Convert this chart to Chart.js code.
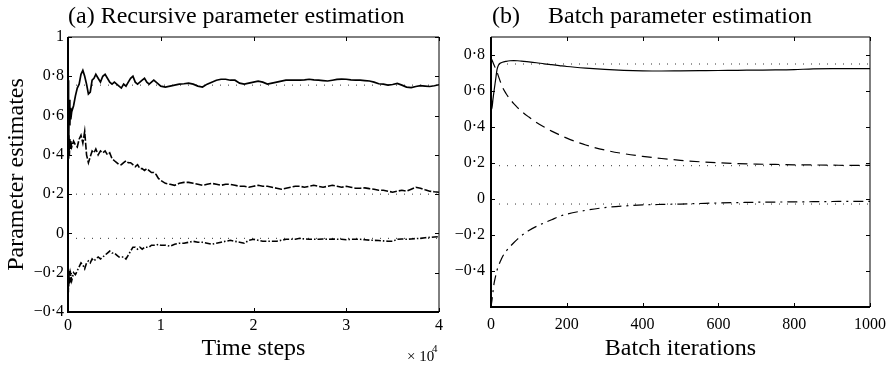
<!DOCTYPE html>
<html>
<head>
<meta charset="utf-8">
<script src="https://cdn.jsdelivr.net/npm/chart.js@4"></script>
<style>
  html, body { margin: 0; padding: 0; background: #fff; }
  #wrap { position: relative; width: 891px; height: 369px; }
  #left { position: absolute; left: 0; top: 0; }
  #right { position: absolute; left: 445px; top: 0; }
</style>
</head>
<body>
<div id="wrap">
  <canvas id="left" width="445" height="369"></canvas>
  <canvas id="right" width="446" height="369"></canvas>
</div>
<script>
// (a) recursive estimation, time steps
const steps = [0, 20, 40, 60, 80, 100, 150, 200, 250, 300,
  400, 600, 800, 1000, 1200, 1400, 1600, 1800, 2000, 2200, 2400, 2600, 2800, 3000,
  3250, 3500, 3750, 4000, 4250, 4500, 4750, 5000, 5250, 5500, 5750, 6000, 6250, 6500, 6750,
  7000, 7250, 7500, 7750, 8000, 8250, 8500, 8750, 9000, 9250, 9500, 9750, 10000,
  10500, 11000, 11500, 12000, 12500, 13000, 13500, 14000, 14500, 15000, 15500, 16000,
  16500, 17000, 17500, 18000, 18500, 19000, 19500, 20000, 20500, 21000, 21500, 22000,
  22500, 23000, 23500, 24000, 24500, 25000, 25500, 26000, 26500, 27000, 27500, 28000,
  28500, 29000, 29500, 30000, 30500, 31000, 31500, 32000, 32500, 33000, 33500, 34000,
  34500, 35000, 35500, 36000, 36500, 37000, 37500, 38000, 38500, 39000, 39500, 40000]

const recTop = [0.78, 0.38, 0.66, 0.45, 0.72, 0.50, 0.68, 0.55, 0.64, 0.58,
  0.62, 0.65, 0.70, 0.74, 0.76, 0.81, 0.83, 0.80, 0.76, 0.71, 0.72, 0.78, 0.79, 0.81,
  0.79, 0.77, 0.80, 0.81, 0.79, 0.77, 0.76, 0.77, 0.76, 0.75, 0.74, 0.76, 0.75, 0.77, 0.79,
  0.80, 0.77, 0.76, 0.77, 0.78, 0.79, 0.77, 0.76, 0.77, 0.78, 0.77, 0.76, 0.75,
  0.745, 0.75, 0.755, 0.76, 0.762, 0.765, 0.76, 0.75, 0.745, 0.76, 0.77, 0.78,
  0.785, 0.785, 0.78, 0.78, 0.765, 0.76, 0.765, 0.77, 0.775, 0.77, 0.76, 0.765,
  0.77, 0.775, 0.78, 0.78, 0.78, 0.78, 0.782, 0.785, 0.782, 0.78, 0.778, 0.776,
  0.78, 0.784, 0.786, 0.785, 0.782, 0.78, 0.78, 0.778, 0.776, 0.77, 0.762, 0.76,
  0.755, 0.758, 0.764, 0.755, 0.745, 0.742, 0.748, 0.752, 0.75, 0.748, 0.752, 0.757]

const recMid = [0.60, 0.52, 0.38, 0.55, 0.42, 0.50, 0.40, 0.48, 0.43, 0.47,
  0.44, 0.47, 0.45, 0.44, 0.48, 0.50, 0.46, 0.52, 0.40, 0.36, 0.39, 0.42, 0.41, 0.43,
  0.40, 0.42, 0.41, 0.42, 0.40, 0.41, 0.38, 0.37, 0.36, 0.35, 0.35, 0.36, 0.37, 0.36, 0.36,
  0.35, 0.34, 0.35, 0.33, 0.33, 0.32, 0.33, 0.32, 0.31, 0.31, 0.30, 0.28, 0.27,
  0.255, 0.25, 0.245, 0.255, 0.26, 0.26, 0.255, 0.25, 0.245, 0.25, 0.255, 0.25,
  0.245, 0.25, 0.25, 0.245, 0.24, 0.24, 0.235, 0.24, 0.245, 0.24, 0.24, 0.235,
  0.23, 0.225, 0.23, 0.235, 0.24, 0.24, 0.235, 0.24, 0.245, 0.24, 0.235, 0.24,
  0.245, 0.24, 0.235, 0.24, 0.235, 0.23, 0.23, 0.232, 0.228, 0.225, 0.22, 0.22,
  0.215, 0.21, 0.215, 0.22, 0.215, 0.225, 0.235, 0.23, 0.222, 0.215, 0.212, 0.21]

const recBot = [-0.36, -0.20, -0.30, -0.18, -0.27, -0.21, -0.26, -0.19, -0.25, -0.21,
  -0.24, -0.20, -0.21, -0.19, -0.17, -0.15, -0.16, -0.18, -0.15, -0.14, -0.15, -0.13, -0.14, -0.13,
  -0.12, -0.13, -0.12, -0.11, -0.10, -0.09, -0.10, -0.10, -0.11, -0.12, -0.12, -0.12, -0.13, -0.11, -0.09,
  -0.07, -0.07, -0.08, -0.07, -0.08, -0.07, -0.07, -0.07, -0.06, -0.06, -0.06, -0.055, -0.06,
  -0.06, -0.065, -0.055, -0.05, -0.05, -0.045, -0.04, -0.045, -0.045, -0.05, -0.055, -0.05,
  -0.045, -0.04, -0.035, -0.04, -0.045, -0.05, -0.035, -0.03, -0.035, -0.04, -0.04, -0.04,
  -0.04, -0.035, -0.03, -0.03, -0.03, -0.025, -0.028, -0.03, -0.03, -0.03, -0.028, -0.03,
  -0.028, -0.03, -0.03, -0.032, -0.03, -0.03, -0.03, -0.032, -0.034, -0.035, -0.036, -0.038,
  -0.04, -0.04, -0.03, -0.028, -0.03, -0.028, -0.026, -0.025, -0.022, -0.02, -0.018, -0.017]

const recRefs = [0.755, 0.2, -0.025]

// (b) batch estimation, iterations
const iters = [0, 2, 5, 8, 12, 16, 20, 25, 30, 40, 50, 60, 70, 80, 100, 120, 140, 160, 180, 200,
  250, 300, 350, 400, 450, 500, 550, 600, 650, 700, 750, 800, 850, 900, 950, 1000]

const batchA = [0.78, 0.50, 0.55, 0.60, 0.66, 0.72, 0.745, 0.755, 0.76, 0.765, 0.768, 0.769, 0.768, 0.766,
  0.762, 0.757, 0.751, 0.746, 0.741, 0.736, 0.727, 0.72, 0.715, 0.712, 0.711, 0.712, 0.713, 0.714,
  0.715, 0.716, 0.717, 0.719, 0.723, 0.724, 0.724, 0.724]

const batchB = [0.78, 0.775, 0.76, 0.745, 0.725, 0.705, 0.68, 0.65, 0.622, 0.585, 0.555, 0.53, 0.508,
  0.488, 0.455, 0.425, 0.40, 0.377, 0.357, 0.338, 0.30, 0.272, 0.252, 0.237, 0.225, 0.215, 0.207,
  0.201, 0.197, 0.194, 0.192, 0.19, 0.189, 0.188, 0.187, 0.187]

const batchC = [-0.60, -0.57, -0.52, -0.47, -0.43, -0.395, -0.37, -0.345, -0.322, -0.29, -0.265, -0.243,
  -0.223, -0.205, -0.175, -0.152, -0.133, -0.115, -0.097, -0.084, -0.063, -0.048, -0.039, -0.033,
  -0.03, -0.028, -0.025, -0.022, -0.02, -0.018, -0.017, -0.016, -0.015, -0.014, -0.013, -0.013]

const batchRefs = [0.75, 0.185, -0.028]

const leftXTicks = [0, 10000, 20000, 30000, 40000]
const leftYTicks = [-0.4, -0.2, 0, 0.2, 0.4, 0.6, 0.8, 1]
const rightXTicks = [0, 200, 400, 600, 800, 1000]
const rightYTicks = [-0.4, -0.2, 0, 0.2, 0.4, 0.6, 0.8]

Chart.defaults.font.family = '"Liberation Serif", "Times New Roman", serif'
Chart.defaults.color = '#000'

function fmt(v) {
  let s
  if (Math.abs(v - Math.round(v)) < 1e-9) s = String(Math.round(v))
  else s = v.toFixed(1).replace('.', '·')
  return s.replace('-', '−')
}

function points(xs, ys) {
  return xs.map((x, i) => ({ x: x, y: ys[i] }))
}

function refLine(x0, x1, v) {
  return {
    data: [{ x: x0, y: v }, { x: x1, y: v }],
    borderColor: '#333',
    borderWidth: 1,
    borderDash: [1, 7],
    pointRadius: 0,
  }
}

// box round the plot, inward ticks on all four sides, and loose texts
const frame = {
  id: 'frame',
  afterDraw(chart, args, opts) {
    const { ctx, chartArea: a } = chart
    const x = chart.scales.x
    const y = chart.scales.y
    ctx.save()
    ctx.strokeStyle = '#000'
    ctx.lineWidth = 1
    ctx.beginPath()
    ctx.moveTo(a.left, a.top)
    ctx.lineTo(a.right, a.top)
    ctx.lineTo(a.right, a.bottom)
    ctx.stroke()
    ctx.lineWidth = 2
    ctx.beginPath()
    ctx.moveTo(a.left, a.top)
    ctx.lineTo(a.left, a.bottom)
    ctx.lineTo(a.right, a.bottom)
    ctx.stroke()
    ctx.lineWidth = 1
    ctx.beginPath()
    x.ticks.forEach((t) => {
      const px = Math.round(x.getPixelForValue(t.value)) + 0.5
      ctx.moveTo(px, a.bottom); ctx.lineTo(px, a.bottom - 4)
      ctx.moveTo(px, a.top); ctx.lineTo(px, a.top + 4)
    })
    y.ticks.forEach((t) => {
      const py = Math.round(y.getPixelForValue(t.value)) + 0.5
      ctx.moveTo(a.left, py); ctx.lineTo(a.left + 4, py)
      ctx.moveTo(a.right, py); ctx.lineTo(a.right - 4, py)
    })
    ctx.stroke()
    ctx.fillStyle = '#000'
    ctx.textBaseline = 'alphabetic'
    ;(opts.texts || []).forEach((t) => {
      ctx.font = t.font
      ctx.fillText(t.text, t.x, t.y)
    })
    ctx.restore()
  },
}

function axes(xMin, xMax, xTicks, xFmt, yMin, yMax, yTicks, yWidth, xHeight, xTitle, yTitle, xPad, yPad) {
  return {
    x: {
      type: 'linear',
      min: xMin,
      max: xMax,
      grid: { display: false, drawTicks: false },
      border: { display: false },
      afterBuildTicks: (s) => { s.ticks = xTicks.map((v) => ({ value: v })) },
      afterFit: (s) => { s.height = xHeight; s.paddingLeft = 0; s.paddingRight = 0 },
      ticks: { callback: (v) => fmt(xFmt(v)), font: { size: 16 }, padding: xPad, maxRotation: 0 },
      title: { display: true, text: xTitle, font: { size: 24 }, padding: { top: 0, bottom: 6 } },
    },
    y: {
      min: yMin,
      max: yMax,
      grid: { display: false, drawTicks: false },
      border: { display: false },
      afterBuildTicks: (s) => { s.ticks = yTicks.map((v) => ({ value: v })) },
      afterFit: (s) => { s.width = yWidth; s.paddingTop = 0; s.paddingBottom = 0 },
      ticks: { callback: (v) => fmt(v), font: { size: 16 }, padding: yPad },
      title: { display: !!yTitle, text: yTitle || '', font: { size: 24 }, padding: { top: 2, bottom: 0 } },
    },
  }
}

new Chart(document.getElementById('left'), {
  type: 'line',
  data: {
    datasets: [
      { data: points(steps, recTop), borderColor: '#000', borderWidth: 1.7, pointRadius: 0 },
      { data: points(steps, recMid), borderColor: '#000', borderWidth: 1.6, borderDash: [7, 2], pointRadius: 0 },
      { data: points(steps, recBot), borderColor: '#000', borderWidth: 1.6, borderDash: [6, 2, 1.5, 2], pointRadius: 0 },
      ...recRefs.map((v) => refLine(0, 40000, v)),
    ],
  },
  options: {
    responsive: false,
    animation: false,
    layout: { padding: { top: 37, right: 6, left: 0, bottom: 0 } },
    plugins: {
      legend: { display: false },
      tooltip: { enabled: false },
      frame: {
        texts: [
          { text: '(a) Recursive parameter estimation', x: 68, y: 23, font: '24px "Liberation Serif"' },
          { text: '× 10', x: 407, y: 361, font: '15px "Liberation Serif"' },
          { text: '4', x: 432, y: 352, font: '11px "Liberation Serif"' },
        ],
      },
    },
    scales: axes(0, 40000, leftXTicks, (v) => v / 10000, -0.4, 1, leftYTicks, 68, 57,
      'Time steps', 'Parameter estimates', 4, 4),
  },
  plugins: [frame],
})

new Chart(document.getElementById('right'), {
  type: 'line',
  data: {
    datasets: [
      { data: points(iters, batchA), borderColor: '#000', borderWidth: 1.2, pointRadius: 0, cubicInterpolationMode: 'monotone' },
      { data: points(iters, batchB), borderColor: '#000', borderWidth: 1.2, borderDash: [10, 6], pointRadius: 0, cubicInterpolationMode: 'monotone' },
      { data: points(iters, batchC), borderColor: '#000', borderWidth: 1.2, borderDash: [10, 5, 2, 5], pointRadius: 0, cubicInterpolationMode: 'monotone' },
      ...batchRefs.map((v) => refLine(0, 1000, v)),
    ],
  },
  options: {
    responsive: false,
    animation: false,
    layout: { padding: { top: 37, right: 21, left: 0, bottom: 0 } },
    plugins: {
      legend: { display: false },
      tooltip: { enabled: false },
      frame: {
        texts: [
          { text: '(b)', x: 47, y: 23, font: '24px "Liberation Serif"' },
          { text: 'Batch parameter estimation', x: 103, y: 23, font: '24px "Liberation Serif"' },
        ],
      },
    },
    scales: axes(0, 1000, rightXTicks, (v) => v, -0.6, 0.9, rightYTicks, 46, 62,
      'Batch iterations', null, 8, 6),
  },
  plugins: [frame],
})
</script>
</body>
</html>
